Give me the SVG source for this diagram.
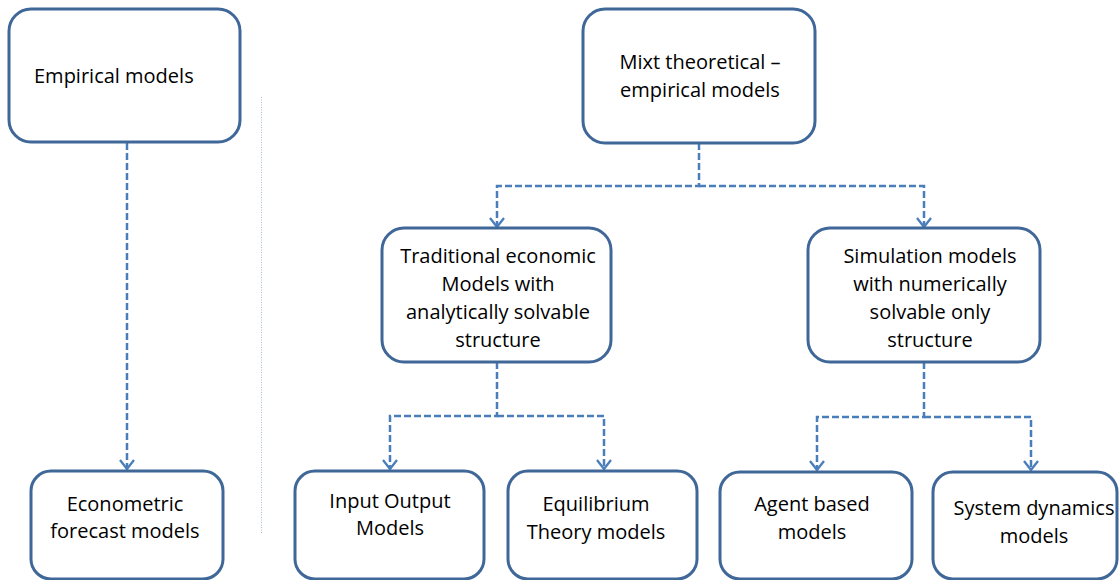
<svg xmlns="http://www.w3.org/2000/svg" width="1119" height="580" viewBox="0 0 1119 580">
<style>
.box{fill:#ffffff;stroke:#3f6797;stroke-width:3}
.t{font-family:"Open Sans","Liberation Sans",sans-serif;font-size:20px;fill:#000000;text-anchor:middle}
.c{fill:none;stroke:#4a7ebb;stroke-width:2.5;stroke-dasharray:7,3}
</style>
<defs>
<marker id="arr" viewBox="0 0 12 18" refX="11" refY="9" markerWidth="12" markerHeight="18" markerUnits="userSpaceOnUse" orient="auto">
<path d="M2,2 L11,9 L2,16" fill="none" stroke="#4a7ebb" stroke-width="2.3"/>
</marker>
</defs>
<rect width="1119" height="580" fill="#ffffff"/>
<line x1="261.5" y1="97" x2="261.5" y2="533" stroke="#a8bcd8" stroke-width="1" stroke-dasharray="1,1.5"/>
<g id="connectors">
<path class="c" d="M127,143 V469" marker-end="url(#arr)"/>
<path class="c" d="M699,143 V186 H497 V227" marker-end="url(#arr)"/>
<path class="c" d="M699,186 H924 V227" marker-end="url(#arr)"/>
<path class="c" d="M497,362 V416 H390 V469" marker-end="url(#arr)"/>
<path class="c" d="M497,416 H604 V469" marker-end="url(#arr)"/>
<path class="c" d="M924,362 V417 H817 V470" marker-end="url(#arr)"/>
<path class="c" d="M924,417 H1031 V470" marker-end="url(#arr)"/>
</g>
<g id="empirical">
<rect class="box" x="9" y="9" width="231" height="133" rx="22"/>
<text class="t" x="34" y="83" style="text-anchor:start">Empirical models</text>
</g>
<g id="mixt">
<rect class="box" x="583" y="9" width="232" height="134" rx="22"/>
<text class="t" x="700" y="69">Mixt theoretical –</text>
<text class="t" x="700" y="97">empirical models</text>
</g>
<g id="traditional">
<rect class="box" x="382" y="228" width="229" height="134" rx="22"/>
<text class="t" x="498" y="263">Traditional economic</text>
<text class="t" x="498" y="291">Models with</text>
<text class="t" x="498" y="319">analytically solvable</text>
<text class="t" x="498" y="347">structure</text>
</g>
<g id="simulation">
<rect class="box" x="808" y="228" width="232" height="134" rx="22"/>
<text class="t" x="930" y="263">Simulation models</text>
<text class="t" x="930" y="291">with numerically</text>
<text class="t" x="930" y="319">solvable only</text>
<text class="t" x="930" y="347">structure</text>
</g>
<g id="econometric">
<rect class="box" x="31" y="471" width="192" height="108" rx="20"/>
<text class="t" x="125" y="511">Econometric</text>
<text class="t" x="125" y="538">forecast models</text>
</g>
<g id="inputoutput">
<rect class="box" x="295" y="471" width="189" height="108" rx="20"/>
<text class="t" x="390" y="508">Input Output</text>
<text class="t" x="390" y="535">Models</text>
</g>
<g id="equilibrium">
<rect class="box" x="508" y="471" width="189" height="108" rx="20"/>
<text class="t" x="596" y="511">Equilibrium</text>
<text class="t" x="596" y="539">Theory models</text>
</g>
<g id="agent">
<rect class="box" x="720" y="472" width="192" height="107" rx="20"/>
<text class="t" x="812" y="511">Agent based</text>
<text class="t" x="812" y="539">models</text>
</g>
<g id="systemdynamics">
<rect class="box" x="933" y="472" width="184" height="107" rx="20"/>
<text class="t" x="1034" y="515">System dynamics</text>
<text class="t" x="1034" y="543">models</text>
</g>
</svg>
